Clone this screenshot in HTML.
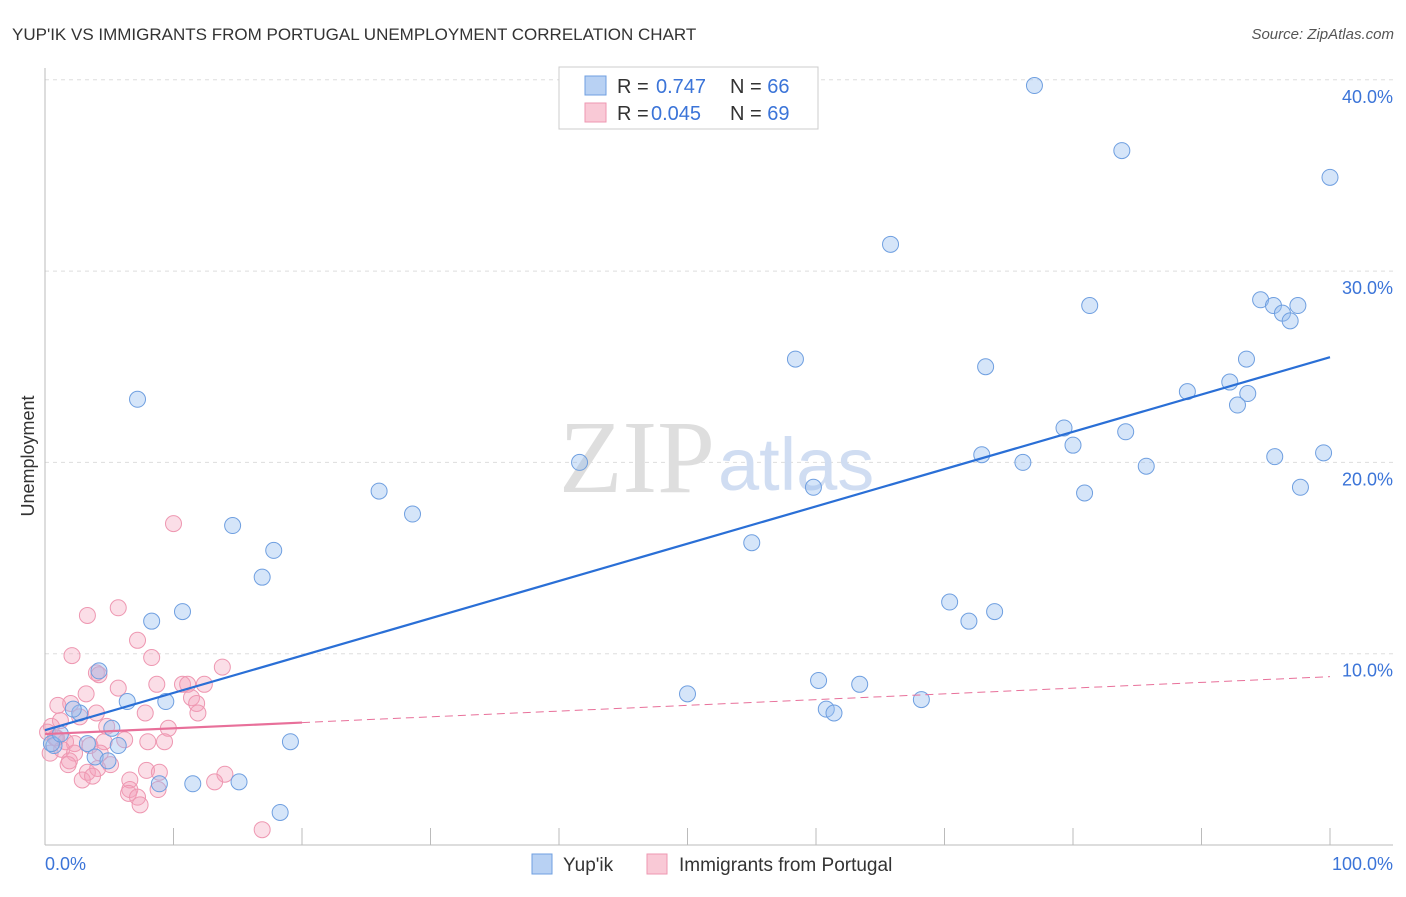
<!DOCTYPE html>
<html><head><meta charset="utf-8"><style>
body{margin:0;background:#fff;font-family:"Liberation Sans",sans-serif}
</style></head><body>
<svg id="c" width="1406" height="892" xmlns="http://www.w3.org/2000/svg">
<text x="12" y="40" font-size="17" fill="#333">YUP'IK VS IMMIGRANTS FROM PORTUGAL UNEMPLOYMENT CORRELATION CHART</text>
<text x="1394" y="39" font-size="15" fill="#555" font-style="italic" text-anchor="end">Source: ZipAtlas.com</text>
<text x="34" y="456" font-size="18" fill="#333" text-anchor="middle" transform="rotate(-90 34 456)">Unemployment</text>
<g id="grid"></g>
<text x="715" y="492" font-size="104" font-family="Liberation Serif,serif" fill="#dedede" text-anchor="end">ZIP</text>
<text x="718" y="490" font-size="74" fill="#d0ddf2">atlas</text>
<g id="pts"></g>
<g id="lines"></g>
<rect x="559" y="67" width="259" height="62" fill="#fff" stroke="#ccc"/>
<rect x="585" y="76" width="21" height="19" fill="#b8d1f3" stroke="#6f9fe0"/>
<rect x="585" y="103" width="21" height="19" fill="#f9c9d6" stroke="#ee97b1"/>
<text x="617" y="93" font-size="20" fill="#333">R = <tspan x="656" fill="#3b74d8">0.747</tspan><tspan x="730">N = </tspan><tspan fill="#3b74d8">66</tspan></text>
<text x="617" y="120" font-size="20" fill="#333">R = <tspan x="651" fill="#3b74d8">0.045</tspan><tspan x="730">N = </tspan><tspan fill="#3b74d8">69</tspan></text>
<text x="45" y="870" font-size="18" fill="#3b74d8">0.0%</text>
<text x="1393" y="870" font-size="18" fill="#3b74d8" text-anchor="end">100.0%</text>
<rect x="532" y="854" width="20" height="20" fill="#b8d1f3" stroke="#6f9fe0"/>
<text x="563" y="871" font-size="19" fill="#333">Yup'ik</text>
<rect x="647" y="854" width="20" height="20" fill="#f9c9d6" stroke="#ee97b1"/>
<text x="679" y="871" font-size="19" fill="#333">Immigrants from Portugal</text>
</svg>
<script>
const yTicks=[10,20,30,40];
const blueX=[77.0,83.8,100,65.8,81.3,94.6,95.6,96.3,96.9,97.5,58.4,73.2,93.5,88.9,92.2,93.6,92.8,7.2,79.3,84.1,80.0,72.9,76.1,41.6,85.7,95.7,99.5,26.0,59.8,80.9,97.7,28.6,14.6,55.0,17.8,16.9,70.4,71.9,73.9,10.7,8.3,4.2,6.4,9.4,50.0,60.2,63.4,68.2,60.8,61.4,5.2,2.7,2.2,19.1,5.7,3.3,3.9,4.9,0.7,0.5,8.9,11.5,15.1,18.3,1.2];
const blueY=[39.7,36.3,34.9,31.4,28.2,28.5,28.2,27.8,27.4,28.2,25.4,25.0,25.4,23.7,24.2,23.6,23.0,23.3,21.8,21.6,20.9,20.4,20.0,20.0,19.8,20.3,20.5,18.5,18.7,18.4,18.7,17.3,16.7,15.8,15.4,14.0,12.7,11.7,12.2,12.2,11.7,9.1,7.5,7.5,7.9,8.6,8.4,7.6,7.1,6.9,6.1,6.9,7.1,5.4,5.2,5.3,4.6,4.4,5.2,5.3,3.2,3.2,3.3,1.7,5.8];
const pinkX=[10.0,5.7,3.3,7.2,8.3,2.1,13.8,4.0,4.2,8.7,10.7,11.1,12.4,5.7,3.2,2.0,1.0,11.4,11.8,11.9,7.8,9.6,4.8,4.0,2.7,1.2,0.5,0.2,0.9,1.6,2.3,3.5,4.6,6.2,8.0,9.3,0.4,1.3,2.3,4.3,1.9,1.8,5.1,3.3,4.1,7.9,8.9,14.0,2.9,3.7,6.6,13.2,6.6,6.5,8.8,7.2,7.4,16.9,0.8];
const pinkY=[16.8,12.4,12.0,10.7,9.8,9.9,9.3,9.0,8.9,8.4,8.4,8.4,8.4,8.2,7.9,7.4,7.3,7.7,7.4,6.9,6.9,6.1,6.2,6.9,6.7,6.5,6.2,5.9,5.6,5.4,5.3,5.2,5.4,5.5,5.4,5.4,4.8,5.0,4.8,4.8,4.4,4.2,4.2,3.8,4.0,3.9,3.8,3.7,3.4,3.6,3.4,3.3,2.9,2.7,2.9,2.5,2.1,0.8,5.6];
const blueFit=[6.0,25.5], pinkFit=[5.8,8.8];
const NS="http://www.w3.org/2000/svg";
const X=v=>45+v*12.85, Y=v=>845-v*19.13;
function mk(t,a,p){const e=document.createElementNS(NS,t);for(const k in a)e.setAttribute(k,a[k]);p.appendChild(e);return e;}
const g=document.getElementById('grid');
yTicks.forEach(t=>{
 const l=mk('line',{x1:45,x2:1393,y1:Y(t),y2:Y(t),stroke:'#ddd','stroke-dasharray':'4,4'},g);
 
 
 const tx=mk('text',{x:1393,y:Y(t)+23,'font-size':18,fill:'#3b74d8','text-anchor':'end'},g);
 tx.textContent=t.toFixed(1)+'%';
 
 
});
const ax=mk('line',{x1:45,x2:1393,y1:845,y2:845,stroke:'#bbb'},g);


const ay=mk('line',{x1:45,x2:45,y1:68,y2:845,stroke:'#bbb'},g);


for(let i=0;i<=10;i++){const tk=mk('line',{x1:X(i*10),x2:X(i*10),y1:828,y2:845,stroke:'#bbb'},g);
 
 }
const p=document.getElementById('pts');
pinkX.forEach((v,i)=>{const c=mk('circle',{cx:X(v),cy:Y(pinkY[i]),r:8,fill:'rgba(244,160,185,0.35)',stroke:'#ee97b1','stroke-width':1},p);
 
 });
blueX.forEach((v,i)=>{const c=mk('circle',{cx:X(v),cy:Y(blueY[i]),r:8,fill:'rgba(150,190,240,0.4)',stroke:'#6f9fe0','stroke-width':1},p);
 
 });
const L=document.getElementById('lines');
const bl=mk('line',{x1:X(0),y1:Y(blueFit[0]),x2:X(100),y2:Y(blueFit[1]),stroke:'#2a6fd6','stroke-width':2.2},L);


const pm=pinkFit[0]+(pinkFit[1]-pinkFit[0])*0.2;
const ps=mk('line',{x1:X(0),y1:Y(pinkFit[0]),x2:X(20),y2:Y(pm),stroke:'#e8709a','stroke-width':2.2},L);


const pd=mk('line',{x1:X(20),y1:Y(pm),x2:X(100),y2:Y(pinkFit[1]),stroke:'#e8709a','stroke-width':1,'stroke-dasharray':'8,5'},L);


</script>
</body></html>
